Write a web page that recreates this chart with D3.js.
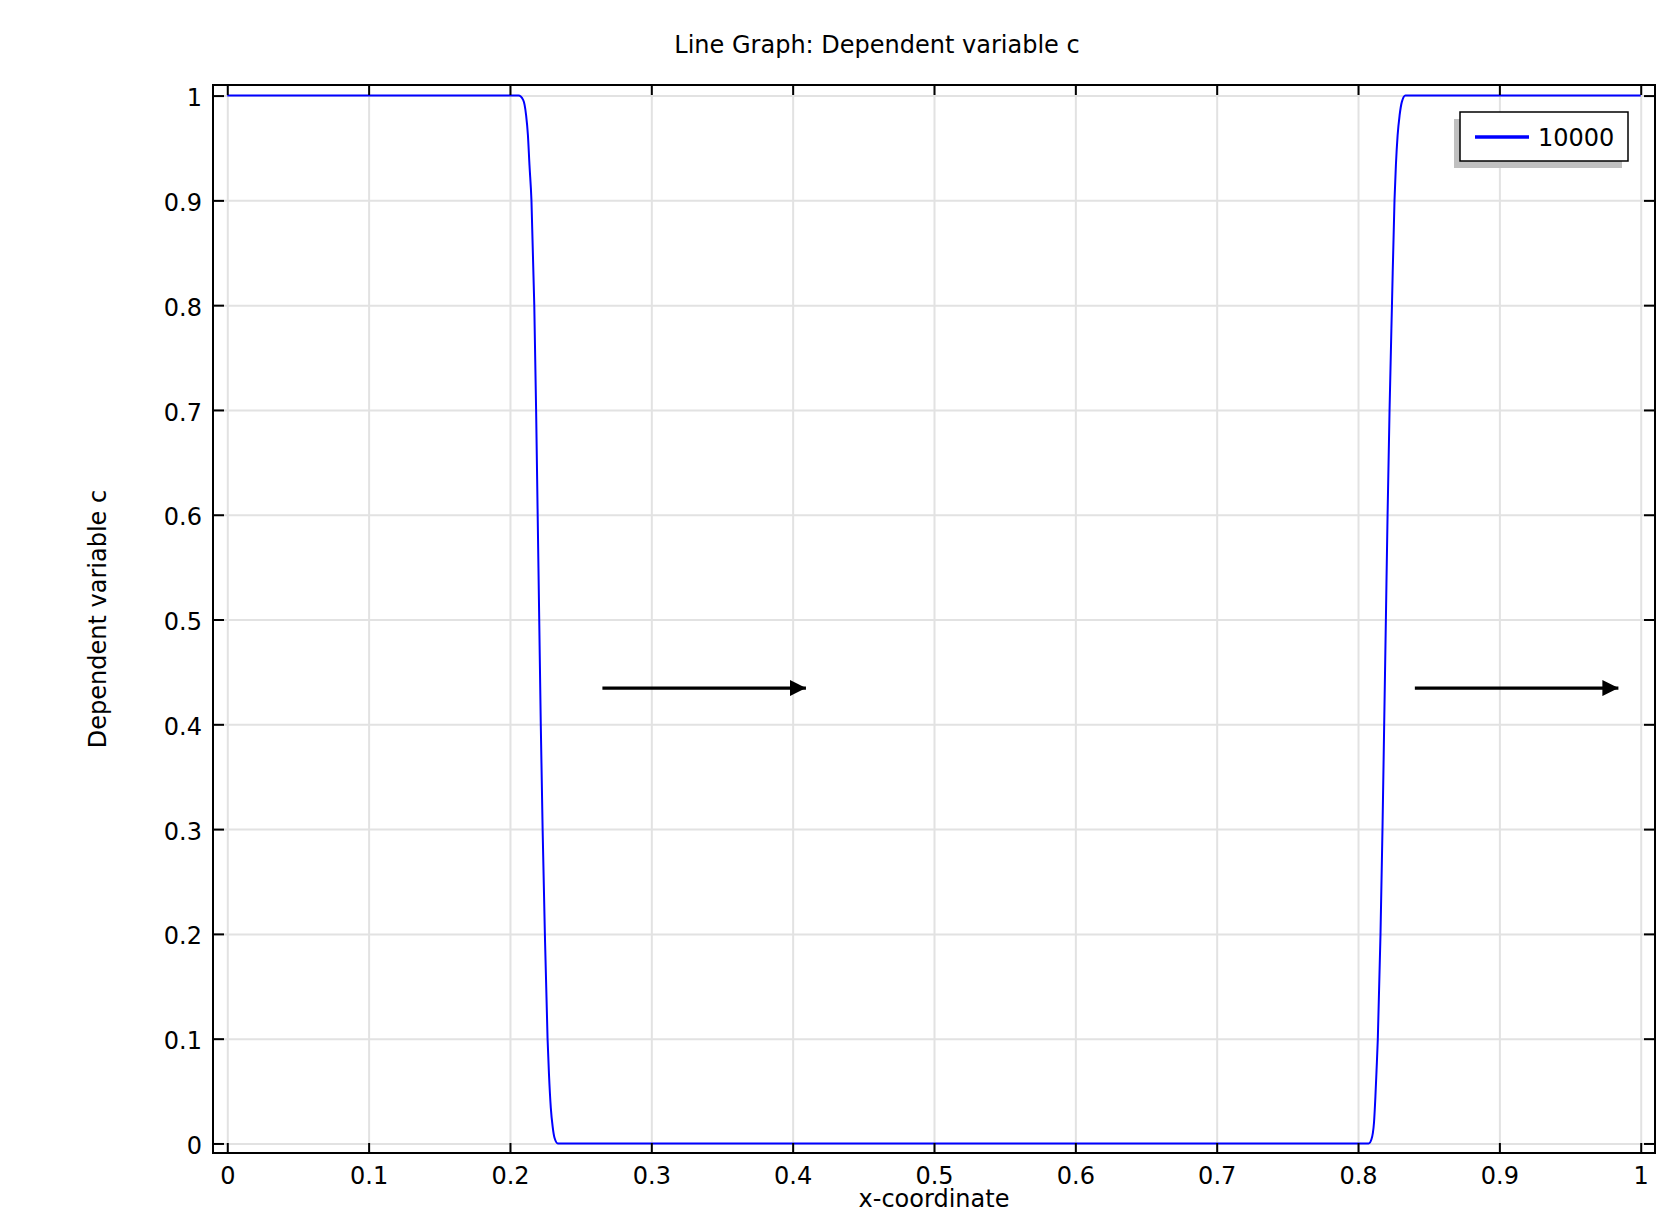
<!DOCTYPE html>
<html>
<head>
<meta charset="utf-8">
<script src="https://cdn.jsdelivr.net/npm/d3@7"></script>
<style>
  body { margin: 0; background: #fff; }
  svg { display: block; font-family: "DejaVu Sans", sans-serif; }
</style>
</head>
<body>
<svg id="chart" width="1669" height="1209"></svg>
<script>
// values
const curveX = [0, 0.2061, 0.2094, 0.2114, 0.2127, 0.2138, 0.2152, 0.2172, 0.2185, 0.2196, 0.2207, 0.2218, 0.2231, 0.2247, 0.2266, 0.2276, 0.2289, 0.2302, 0.2315, 0.2339,
                0.8075, 0.8095, 0.8113, 0.8123, 0.8131, 0.8140, 0.8159, 0.8173, 0.8185, 0.8197, 0.8209, 0.8223, 0.8240, 0.8258, 0.8268, 0.8280, 0.8294, 0.8310, 0.8335, 1];
const curveC = [1, 1, 0.9957, 0.9814, 0.9623, 0.9337, 0.9, 0.8, 0.7, 0.6, 0.5, 0.4, 0.3, 0.2, 0.1, 0.066, 0.034, 0.016, 0.0054, 0,
                0, 0.004, 0.02, 0.045, 0.07, 0.1, 0.2, 0.3, 0.4, 0.5, 0.6, 0.7, 0.8, 0.9, 0.934, 0.962, 0.981, 0.994, 1, 1];
const seriesName = "10000";

const xTicks = [0, 0.1, 0.2, 0.3, 0.4, 0.5, 0.6, 0.7, 0.8, 0.9, 1];
const xTickLabels = ["0", "0.1", "0.2", "0.3", "0.4", "0.5", "0.6", "0.7", "0.8", "0.9", "1"];
const yTicks = [0, 0.1, 0.2, 0.3, 0.4, 0.5, 0.6, 0.7, 0.8, 0.9, 1];
const yTickLabels = ["0", "0.1", "0.2", "0.3", "0.4", "0.5", "0.6", "0.7", "0.8", "0.9", "1"];

// arrows drawn in data coordinates
const arrowStartX = [0.2654, 0.8402];
const arrowEndX = [0.4094, 0.9842];
const arrowY = [0.4346, 0.4346];

const titleText = "Line Graph: Dependent variable c";
const xLabel = "x-coordinate";
const yLabel = "Dependent variable c";

const frame = {left: 213, right: 1655, top: 85, bottom: 1153};
const fontSize = 24;

const svg = d3.select("#chart");

const x = d3.scaleLinear().domain([-0.0101, 1.0101]).range([frame.left, frame.right]);
const y = d3.scaleLinear().domain([-0.0091, 1.0101]).range([frame.bottom, frame.top]);

// grid
svg.append("g")
  .attr("transform", `translate(0,${frame.bottom})`)
  .call(d3.axisBottom(x).tickValues(xTicks).tickSize(-(frame.bottom - frame.top)).tickFormat(""))
  .call(g => g.select(".domain").remove())
  .call(g => g.selectAll("line").attr("stroke", "#e2e2e2").attr("stroke-width", 2));
svg.append("g")
  .attr("transform", `translate(${frame.left},0)`)
  .call(d3.axisLeft(y).tickValues(yTicks).tickSize(-(frame.right - frame.left)).tickFormat(""))
  .call(g => g.select(".domain").remove())
  .call(g => g.selectAll("line").attr("stroke", "#e2e2e2").attr("stroke-width", 2));

// the curve
const points = curveX.map((d, i) => [d, curveC[i]]);
const line = d3.line().x(d => x(d[0])).y(d => y(d[1])).curve(d3.curveMonotoneX);
svg.append("path")
  .datum(points)
  .attr("d", line)
  .attr("fill", "none")
  .attr("stroke", "#0000ff")
  .attr("stroke-width", 2);

// arrows
const defs = svg.append("defs");
defs.append("marker")
  .attr("id", "head")
  .attr("viewBox", "0 0 16 16")
  .attr("refX", 16).attr("refY", 8)
  .attr("markerWidth", 16).attr("markerHeight", 16)
  .attr("markerUnits", "userSpaceOnUse")
  .attr("orient", "auto")
  .append("path")
  .attr("d", "M0,0 L16,8 L0,16 Z")
  .attr("fill", "#000");

arrowStartX.forEach((sx, i) => {
  svg.append("line")
    .attr("x1", x(sx)).attr("y1", y(arrowY[i]))
    .attr("x2", x(arrowEndX[i])).attr("y2", y(arrowY[i]))
    .attr("stroke", "#000")
    .attr("stroke-width", 3.3)
    .attr("marker-end", "url(#head)");
});

// axes with inward ticks
const styleAxis = g => {
  g.select(".domain").remove();
  g.selectAll("line").attr("stroke", "#000").attr("stroke-width", 2);
  g.selectAll("text").attr("fill", "#000").style("font-size", fontSize + "px").style("font-family", "DejaVu Sans");
};
svg.append("g")
  .attr("transform", `translate(0,${frame.bottom})`)
  .call(d3.axisBottom(x).tickValues(xTicks).tickSize(-10).tickPadding(14).tickFormat((d, i) => xTickLabels[i]))
  .call(styleAxis);
svg.append("g")
  .attr("transform", `translate(0,${frame.top})`)
  .call(d3.axisTop(x).tickValues(xTicks).tickSize(-10).tickFormat(""))
  .call(styleAxis);
svg.append("g")
  .attr("transform", `translate(${frame.left},0)`)
  .call(d3.axisLeft(y).tickValues(yTicks).tickSize(-11).tickPadding(11).tickFormat((d, i) => yTickLabels[i]))
  .call(styleAxis)
  .call(g => g.selectAll("text").attr("dy", "0.42em"));
svg.append("g")
  .attr("transform", `translate(${frame.right},0)`)
  .call(d3.axisRight(y).tickValues(yTicks).tickSize(-11).tickFormat(""))
  .call(styleAxis);

// frame
svg.append("rect")
  .attr("x", frame.left).attr("y", frame.top)
  .attr("width", frame.right - frame.left).attr("height", frame.bottom - frame.top)
  .attr("fill", "none").attr("stroke", "#000").attr("stroke-width", 2);

// legend
const leg = {x: 1460, y: 112, w: 168, h: 49};
svg.append("rect")
  .attr("x", leg.x - 6).attr("y", leg.y + 7)
  .attr("width", leg.w).attr("height", leg.h)
  .attr("fill", "#c0c0c0");
svg.append("rect")
  .attr("x", leg.x).attr("y", leg.y)
  .attr("width", leg.w).attr("height", leg.h)
  .attr("fill", "#fff").attr("stroke", "#000").attr("stroke-width", 1.5);
svg.append("line")
  .attr("x1", leg.x + 15).attr("x2", leg.x + 69)
  .attr("y1", leg.y + 25).attr("y2", leg.y + 25)
  .attr("stroke", "#0000ff").attr("stroke-width", 3.3);
svg.append("text")
  .attr("x", leg.x + 78).attr("y", leg.y + 34)
  .style("font-size", "24px")
  .text(seriesName);

// titles
svg.append("text")
  .attr("x", 877).attr("y", 53)
  .attr("text-anchor", "middle")
  .style("font-size", fontSize + "px")
  .text(titleText);
svg.append("text")
  .attr("x", (frame.left + frame.right) / 2).attr("y", 1207)
  .attr("text-anchor", "middle")
  .style("font-size", fontSize + "px")
  .text(xLabel);
svg.append("text")
  .attr("transform", `translate(106,${(frame.top + frame.bottom) / 2}) rotate(-90)`)
  .attr("text-anchor", "middle")
  .style("font-size", fontSize + "px")
  .text(yLabel);
</script>
</body>
</html>
